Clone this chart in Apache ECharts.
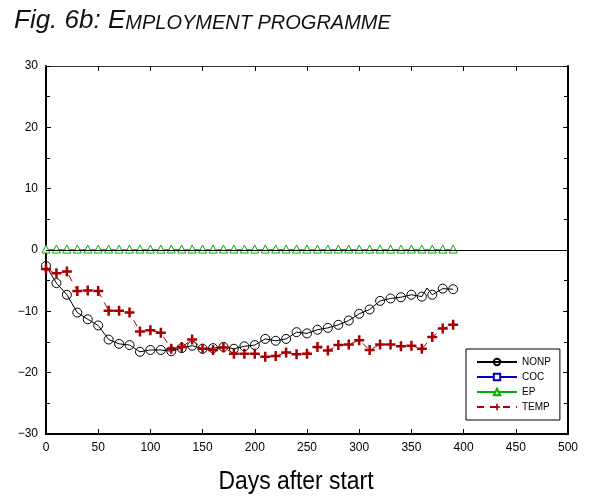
<!DOCTYPE html>
<html>
<head>
<meta charset="utf-8">
<script src="https://cdn.jsdelivr.net/npm/echarts@6/dist/echarts.min.js"></script>
<style>html,body{margin:0;padding:0;background:#fff}#c{width:589px;height:500px}</style>
</head>
<body>
<div id="c"></div>
<script>
const days = [0,10,20,30,40,50,60,70,80,90,100,110,120,130,140,150,160,170,180,190,200,210,220,230,240,250,260,270,280,290,300,310,320,330,340,350,360,370,380,390];
const nonp = [-2.6,-5.4,-7.3,-10.2,-11.3,-12.3,-14.6,-15.3,-15.5,-16.6,-16.3,-16.3,-16.5,-16.0,-15.6,-16.1,-16.0,-15.8,-16.1,-15.7,-15.5,-14.5,-14.8,-14.5,-13.4,-13.6,-13.0,-12.7,-12.2,-11.5,-10.4,-9.7,-8.3,-7.9,-7.7,-7.3,-7.6,-7.3,-6.3,-6.4];
const nonpExtraDay = 365;
const nonpExtraValue = -6.2;
const coc = [0,0,0,0,0,0,0,0,0,0,0,0,0,0,0,0,0,0,0,0,0,0,0,0,0,0,0,0,0,0,0,0,0,0,0,0,0,0,0,0];
const ep = [0,0,0,0,0,0,0,0,0,0,0,0,0,0,0,0,0,0,0,0,0,0,0,0,0,0,0,0,0,0,0,0,0,0,0,0,0,0,0,0];
const temp = [-3.1,-3.8,-3.5,-6.7,-6.6,-6.7,-9.9,-9.9,-10.2,-13.3,-13.1,-13.5,-16.1,-15.8,-14.6,-16.1,-16.3,-15.9,-16.9,-16.9,-16.9,-17.4,-17.3,-16.7,-17.0,-16.9,-15.8,-16.4,-15.5,-15.4,-14.7,-16.3,-15.4,-15.4,-15.7,-15.6,-16.1,-14.2,-12.8,-12.2];
const xTicks = {min: 0, max: 500, interval: 50};
const yTicks = {min: -30, max: 30, interval: 10};
const xTitle = 'Days after start';

const pair = (arr) => days.map((d, i) => [d, arr[i]]);
const nonpData = pair(nonp).map(p => ({value: p}));
nonpData.push({value: [nonpExtraDay, nonpExtraValue], symbol: 'none'});
nonpData.sort((a, b) => a.value[0] - b.value[0]);

const FONT = "'Liberation Sans', Arial, sans-serif";
const plus = 'path://M3,0H5V3H8V5H5V8H3V5H0V3H3Z';

const chart = echarts.init(document.getElementById('c'), null, {renderer: 'canvas'});
const yLab = v => String(v).replace('-', '\u2212');
chart.setOption({
  animation: false,
  backgroundColor: '#fff',
  title: {
    left: 9, top: 3,
    text: '{a|Fig. 6b: E}{b|MPLOYMENT PROGRAMME}',
    textStyle: {
      fontWeight: 'normal',
      rich: {
        a: {fontFamily: FONT, fontStyle: 'italic', fontWeight: 'normal', fontSize: 26, color: '#111'},
        b: {fontFamily: FONT, fontStyle: 'italic', fontWeight: 'normal', fontSize: 20, color: '#111', padding: [4, 0, 0, 0]}
      }
    }
  },
  grid: {left: 46, right: 21, top: 66, bottom: 66, containLabel: false},
  legend: {
    orient: 'vertical',
    left: 466, top: 349,
    data: ['NONP', 'COC', 'EP', 'TEMP'],
    borderColor: '#000', borderWidth: 1,
    backgroundColor: '#fff',
    padding: [8, 9, 8, 10],
    itemGap: 5,
    itemWidth: 40, itemHeight: 8,
    textStyle: {fontFamily: FONT, fontSize: 10, color: '#000'}
  },
  graphic: [{
    type: 'text', x: 296, y: 482, scaleX: 0.88, silent: true,
    style: {
      text: xTitle, x: 0, y: 0,
      font: "26px 'Liberation Sans', Arial, sans-serif",
      fill: '#000', align: 'center', verticalAlign: 'middle',
      textAlign: 'center', textVerticalAlign: 'middle'
    }
  }],
  xAxis: [{
    type: 'value', position: 'bottom', min: xTicks.min, max: xTicks.max, interval: xTicks.interval,
    axisLine: {show: true, onZero: false, lineStyle: {color: '#000', width: 2}},
    axisTick: {show: true, inside: true, length: 5, lineStyle: {color: '#000'}},
    axisLabel: {fontFamily: FONT, fontSize: 12, color: '#000', margin: 8},
    splitLine: {show: false}
  }, {
    type: 'value', position: 'top', min: xTicks.min, max: xTicks.max, interval: xTicks.interval,
    axisLine: {show: true, onZero: false, lineStyle: {color: '#333', width: 1}},
    axisTick: {show: true, inside: true, length: 5, lineStyle: {color: '#000'}},
    axisLabel: {show: false},
    splitLine: {show: false}
  }],
  yAxis: [{
    type: 'value', position: 'left', min: yTicks.min, max: yTicks.max, interval: yTicks.interval,
    axisLine: {show: true, onZero: false, lineStyle: {color: '#000', width: 2}},
    axisTick: {show: true, inside: true, length: 5, lineStyle: {color: '#000'}},
    minorTick: {show: true, splitNumber: 2, length: 4, lineStyle: {color: '#000'}},
    axisLabel: {fontFamily: FONT, fontSize: 12, color: '#000', margin: 8, formatter: yLab},
    splitLine: {show: false}, minorSplitLine: {show: false}
  }, {
    type: 'value', position: 'right', min: yTicks.min, max: yTicks.max, interval: yTicks.interval,
    axisLine: {show: true, onZero: false, lineStyle: {color: '#000', width: 2}},
    axisTick: {show: true, inside: true, length: 5, lineStyle: {color: '#000'}},
    minorTick: {show: true, splitNumber: 2, length: 4, lineStyle: {color: '#000'}},
    axisLabel: {show: false},
    splitLine: {show: false}, minorSplitLine: {show: false}
  }],
  series: [
    {
      name: 'COC', type: 'line', data: pair(coc),
      symbol: 'rect', symbolSize: 3, showAllSymbol: true,
      itemStyle: {color: '#fff', borderColor: '#0000c8', borderWidth: 1},
      lineStyle: {color: '#0000c8', width: 1},
      z: 2
    },
    {
      name: 'EP', type: 'line', data: pair(ep),
      symbol: 'triangle', symbolSize: 8, symbolOffset: [0, -1], showAllSymbol: true,
      itemStyle: {color: '#fff', borderColor: '#00b000', borderWidth: 1},
      lineStyle: {color: '#00b000', width: 1},
      markLine: {
        silent: true, symbol: 'none', label: {show: false},
        lineStyle: {color: '#000', width: 1, type: 'solid'},
        data: [{yAxis: 0}]
      },
      z: 3
    },
    {
      name: 'NONP', type: 'line', data: nonpData,
      symbol: 'circle', symbolSize: 9, showAllSymbol: true,
      itemStyle: {color: 'rgba(255,255,255,0)', borderColor: '#000', borderWidth: 1},
      lineStyle: {color: '#000', width: 1},
      z: 4
    },
    {
      name: 'TEMP', type: 'line', data: pair(temp),
      symbol: plus, symbolSize: 10, showAllSymbol: true,
      itemStyle: {color: '#a80000', borderWidth: 0},
      lineStyle: {color: '#a80000', width: 1, type: [7, 6]},
      z: 5
    }
  ]
});
</script>
</body>
</html>
